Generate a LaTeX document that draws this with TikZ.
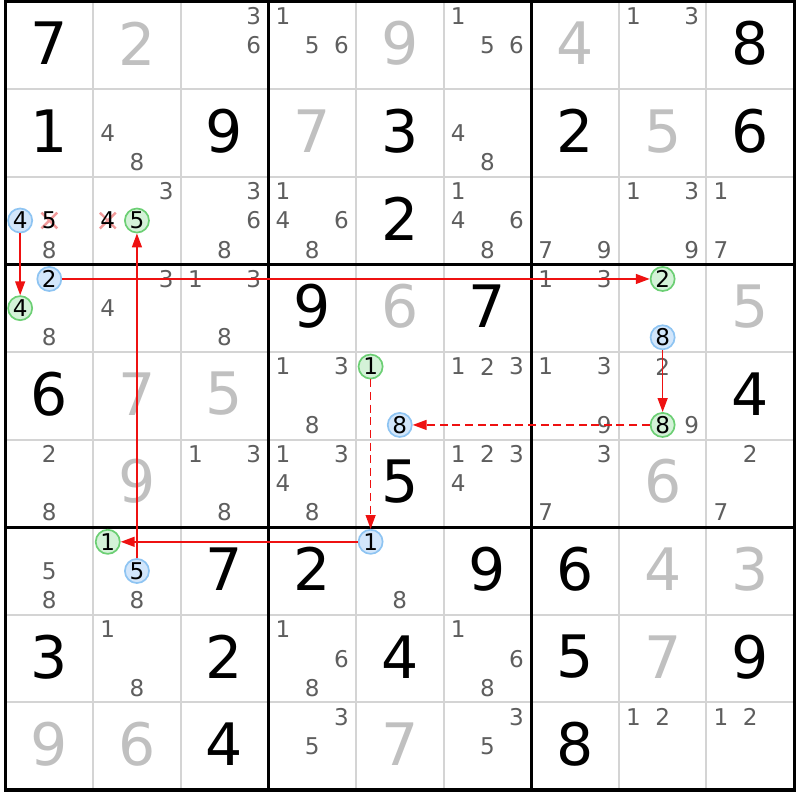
\documentclass[tikz,border=0pt]{standalone}
\usepackage{fontspec}
\setmainfont{DejaVu Sans}
\usetikzlibrary{arrows.meta}
\definecolor{solvedgray}{HTML}{C0C0C0}
\definecolor{candgray}{HTML}{5E5E5E}
\definecolor{gridgray}{HTML}{D4D4D4}
\definecolor{onblue}{HTML}{D2E6FB}
\definecolor{onblueline}{HTML}{8EC4F2}
\definecolor{ongreen}{HTML}{D4F2D8}
\definecolor{ongreenline}{HTML}{6CCF74}
\definecolor{crossred}{HTML}{F29A9A}
\definecolor{linkred}{HTML}{EE1111}
\tikzset{
  thinline/.style={gridgray,line width=0.65pt},
  boxline/.style={black,line width=1pt},
  given/.style={font=\fontsize{19}{19}\selectfont,text=black,inner sep=0pt},
  solved/.style={given,text=solvedgray},
  cand/.style={font=\fontsize{7.5}{7.5}\selectfont,text=candgray,inner sep=0pt},
  oncand/.style={cand,text=black,circle,minimum size=0.275cm,line width=0.55pt},
  bluecand/.style={oncand,draw=onblueline,fill=onblue},
  greencand/.style={oncand,draw=ongreenline,fill=ongreen},
  offcand/.style={cand,text=black},
  crossmark/.style={crossred,line width=0.8pt},
  link/.style={linkred,line width=0.5pt,-{Triangle[length=4.5pt,width=3.2pt]}},
  weaklink/.style={link,dash pattern=on 2.6pt off 1.5pt}
}
\begin{document}
\begin{tikzpicture}
\useasboundingbox (-0.063,0.017) rectangle (9.051,-9.114);

% cell lines
\draw [thinline] (1,0) -- (1,-9);
\draw [thinline] (2,0) -- (2,-9);
\draw [thinline] (4,0) -- (4,-9);
\draw [thinline] (5,0) -- (5,-9);
\draw [thinline] (7,0) -- (7,-9);
\draw [thinline] (8,0) -- (8,-9);
\draw [thinline] (0,-1) -- (9,-1);
\draw [thinline] (0,-2) -- (9,-2);
\draw [thinline] (0,-4) -- (9,-4);
\draw [thinline] (0,-5) -- (9,-5);
\draw [thinline] (0,-7) -- (9,-7);
\draw [thinline] (0,-8) -- (9,-8);

% box lines
\draw [boxline] (3,0) -- (3,-9);
\draw [boxline] (6,0) -- (6,-9);
\draw [boxline] (0,-3) -- (9,-3);
\draw [boxline] (0,-6) -- (9,-6);
\draw [boxline] (0,0) rectangle (9,-9);

% row 1
\node [given]  (g11) at (0.5,-0.48) {7};
\node [solved] (g12) at (1.5,-0.48) {2};
\node [cand] (r1c3d3) at (2.833,-0.167) {3};
\node [cand] (r1c3d6) at (2.833,-0.5) {6};
\node [cand] (r1c4d1) at (3.167,-0.167) {1};
\node [cand] (r1c4d5) at (3.5,-0.5) {5};
\node [cand] (r1c4d6) at (3.833,-0.5) {6};
\node [solved] (g15) at (4.5,-0.48) {9};
\node [cand] (r1c6d1) at (5.167,-0.167) {1};
\node [cand] (r1c6d5) at (5.5,-0.5) {5};
\node [cand] (r1c6d6) at (5.833,-0.5) {6};
\node [solved] (g17) at (6.5,-0.48) {4};
\node [cand] (r1c8d1) at (7.167,-0.167) {1};
\node [cand] (r1c8d3) at (7.833,-0.167) {3};
\node [given]  (g19) at (8.5,-0.48) {8};

% row 2
\node [given]  (g21) at (0.5,-1.48) {1};
\node [cand] (r2c2d4) at (1.167,-1.5) {4};
\node [cand] (r2c2d8) at (1.5,-1.833) {8};
\node [given]  (g23) at (2.5,-1.48) {9};
\node [solved] (g24) at (3.5,-1.48) {7};
\node [given]  (g25) at (4.5,-1.48) {3};
\node [cand] (r2c6d4) at (5.167,-1.5) {4};
\node [cand] (r2c6d8) at (5.5,-1.833) {8};
\node [given]  (g27) at (6.5,-1.48) {2};
\node [solved] (g28) at (7.5,-1.48) {5};
\node [given]  (g29) at (8.5,-1.48) {6};

% row 3
\draw [crossmark] (0.41,-2.41) -- (0.59,-2.59);
\draw [crossmark] (0.41,-2.59) -- (0.59,-2.41);
\draw [crossmark] (1.077,-2.41) -- (1.257,-2.59);
\draw [crossmark] (1.077,-2.59) -- (1.257,-2.41);
\node [bluecand] (r3c1d4) at (0.167,-2.5) {4};
\node [offcand] (r3c1d5) at (0.5,-2.5) {5};
\node [cand] (r3c1d8) at (0.5,-2.833) {8};
\node [cand] (r3c2d3) at (1.833,-2.167) {3};
\node [offcand] (r3c2d4) at (1.167,-2.5) {4};
\node [greencand] (r3c2d5) at (1.5,-2.5) {5};
\node [cand] (r3c3d3) at (2.833,-2.167) {3};
\node [cand] (r3c3d6) at (2.833,-2.5) {6};
\node [cand] (r3c3d8) at (2.5,-2.833) {8};
\node [cand] (r3c4d1) at (3.167,-2.167) {1};
\node [cand] (r3c4d4) at (3.167,-2.5) {4};
\node [cand] (r3c4d6) at (3.833,-2.5) {6};
\node [cand] (r3c4d8) at (3.5,-2.833) {8};
\node [given]  (g35) at (4.5,-2.48) {2};
\node [cand] (r3c6d1) at (5.167,-2.167) {1};
\node [cand] (r3c6d4) at (5.167,-2.5) {4};
\node [cand] (r3c6d6) at (5.833,-2.5) {6};
\node [cand] (r3c6d8) at (5.5,-2.833) {8};
\node [cand] (r3c7d7) at (6.167,-2.833) {7};
\node [cand] (r3c7d9) at (6.833,-2.833) {9};
\node [cand] (r3c8d1) at (7.167,-2.167) {1};
\node [cand] (r3c8d3) at (7.833,-2.167) {3};
\node [cand] (r3c8d9) at (7.833,-2.833) {9};
\node [cand] (r3c9d1) at (8.167,-2.167) {1};
\node [cand] (r3c9d7) at (8.167,-2.833) {7};

% row 4
\node [bluecand] (r4c1d2) at (0.5,-3.167) {2};
\node [greencand] (r4c1d4) at (0.167,-3.5) {4};
\node [cand] (r4c1d8) at (0.5,-3.833) {8};
\node [cand] (r4c2d3) at (1.833,-3.167) {3};
\node [cand] (r4c2d4) at (1.167,-3.5) {4};
\node [cand] (r4c3d1) at (2.167,-3.167) {1};
\node [cand] (r4c3d3) at (2.833,-3.167) {3};
\node [cand] (r4c3d8) at (2.5,-3.833) {8};
\node [given]  (g44) at (3.5,-3.48) {9};
\node [solved] (g45) at (4.5,-3.48) {6};
\node [given]  (g46) at (5.5,-3.48) {7};
\node [cand] (r4c7d1) at (6.167,-3.167) {1};
\node [cand] (r4c7d3) at (6.833,-3.167) {3};
\node [greencand] (r4c8d2) at (7.5,-3.167) {2};
\node [bluecand] (r4c8d8) at (7.5,-3.833) {8};
\node [solved] (g49) at (8.5,-3.48) {5};

% row 5
\node [given]  (g51) at (0.5,-4.48) {6};
\node [solved] (g52) at (1.5,-4.48) {7};
\node [solved] (g53) at (2.5,-4.48) {5};
\node [cand] (r5c4d1) at (3.167,-4.167) {1};
\node [cand] (r5c4d3) at (3.833,-4.167) {3};
\node [cand] (r5c4d8) at (3.5,-4.833) {8};
\node [greencand] (r5c5d1) at (4.167,-4.167) {1};
\node [bluecand] (r5c5d8) at (4.5,-4.833) {8};
\node [cand] (r5c6d1) at (5.167,-4.167) {1};
\node [cand] (r5c6d2) at (5.5,-4.167) {2};
\node [cand] (r5c6d3) at (5.833,-4.167) {3};
\node [cand] (r5c7d1) at (6.167,-4.167) {1};
\node [cand] (r5c7d3) at (6.833,-4.167) {3};
\node [cand] (r5c7d9) at (6.833,-4.833) {9};
\node [cand] (r5c8d2) at (7.5,-4.167) {2};
\node [greencand] (r5c8d8) at (7.5,-4.833) {8};
\node [cand] (r5c8d9) at (7.833,-4.833) {9};
\node [given]  (g59) at (8.5,-4.48) {4};

% row 6
\node [cand] (r6c1d2) at (0.5,-5.167) {2};
\node [cand] (r6c1d8) at (0.5,-5.833) {8};
\node [solved] (g62) at (1.5,-5.48) {9};
\node [cand] (r6c3d1) at (2.167,-5.167) {1};
\node [cand] (r6c3d3) at (2.833,-5.167) {3};
\node [cand] (r6c3d8) at (2.5,-5.833) {8};
\node [cand] (r6c4d1) at (3.167,-5.167) {1};
\node [cand] (r6c4d3) at (3.833,-5.167) {3};
\node [cand] (r6c4d4) at (3.167,-5.5) {4};
\node [cand] (r6c4d8) at (3.5,-5.833) {8};
\node [given]  (g65) at (4.5,-5.48) {5};
\node [cand] (r6c6d1) at (5.167,-5.167) {1};
\node [cand] (r6c6d2) at (5.5,-5.167) {2};
\node [cand] (r6c6d3) at (5.833,-5.167) {3};
\node [cand] (r6c6d4) at (5.167,-5.5) {4};
\node [cand] (r6c7d3) at (6.833,-5.167) {3};
\node [cand] (r6c7d7) at (6.167,-5.833) {7};
\node [solved] (g68) at (7.5,-5.48) {6};
\node [cand] (r6c9d2) at (8.5,-5.167) {2};
\node [cand] (r6c9d7) at (8.167,-5.833) {7};

% row 7
\node [cand] (r7c1d5) at (0.5,-6.5) {5};
\node [cand] (r7c1d8) at (0.5,-6.833) {8};
\node [greencand] (r7c2d1) at (1.167,-6.167) {1};
\node [bluecand] (r7c2d5) at (1.5,-6.5) {5};
\node [cand] (r7c2d8) at (1.5,-6.833) {8};
\node [given]  (g73) at (2.5,-6.48) {7};
\node [given]  (g74) at (3.5,-6.48) {2};
\node [bluecand] (r7c5d1) at (4.167,-6.167) {1};
\node [cand] (r7c5d8) at (4.5,-6.833) {8};
\node [given]  (g76) at (5.5,-6.48) {9};
\node [given]  (g77) at (6.5,-6.48) {6};
\node [solved] (g78) at (7.5,-6.48) {4};
\node [solved] (g79) at (8.5,-6.48) {3};

% row 8
\node [given]  (g81) at (0.5,-7.48) {3};
\node [cand] (r8c2d1) at (1.167,-7.167) {1};
\node [cand] (r8c2d8) at (1.5,-7.833) {8};
\node [given]  (g83) at (2.5,-7.48) {2};
\node [cand] (r8c4d1) at (3.167,-7.167) {1};
\node [cand] (r8c4d6) at (3.833,-7.5) {6};
\node [cand] (r8c4d8) at (3.5,-7.833) {8};
\node [given]  (g85) at (4.5,-7.48) {4};
\node [cand] (r8c6d1) at (5.167,-7.167) {1};
\node [cand] (r8c6d6) at (5.833,-7.5) {6};
\node [cand] (r8c6d8) at (5.5,-7.833) {8};
\node [given]  (g87) at (6.5,-7.48) {5};
\node [solved] (g88) at (7.5,-7.48) {7};
\node [given]  (g89) at (8.5,-7.48) {9};

% row 9
\node [solved] (g91) at (0.5,-8.48) {9};
\node [solved] (g92) at (1.5,-8.48) {6};
\node [given]  (g93) at (2.5,-8.48) {4};
\node [cand] (r9c4d3) at (3.833,-8.167) {3};
\node [cand] (r9c4d5) at (3.5,-8.5) {5};
\node [solved] (g95) at (4.5,-8.48) {7};
\node [cand] (r9c6d3) at (5.833,-8.167) {3};
\node [cand] (r9c6d5) at (5.5,-8.5) {5};
\node [given]  (g97) at (6.5,-8.48) {8};
\node [cand] (r9c8d1) at (7.167,-8.167) {1};
\node [cand] (r9c8d2) at (7.5,-8.167) {2};
\node [cand] (r9c9d1) at (8.167,-8.167) {1};
\node [cand] (r9c9d2) at (8.5,-8.167) {2};

% chain
\draw [link] (r3c1d4) -- (r4c1d4);
\draw [link] (r4c1d2) -- (r4c8d2);
\draw [link] (r4c8d8) -- (r5c8d8);
\draw [weaklink] (r5c8d8) -- (r5c5d8);
\draw [weaklink] (r5c5d1) -- (r7c5d1);
\draw [link] (r7c5d1) -- (r7c2d1);
\draw [link] (r7c2d5) -- (r3c2d5);

\end{tikzpicture}
\end{document}
